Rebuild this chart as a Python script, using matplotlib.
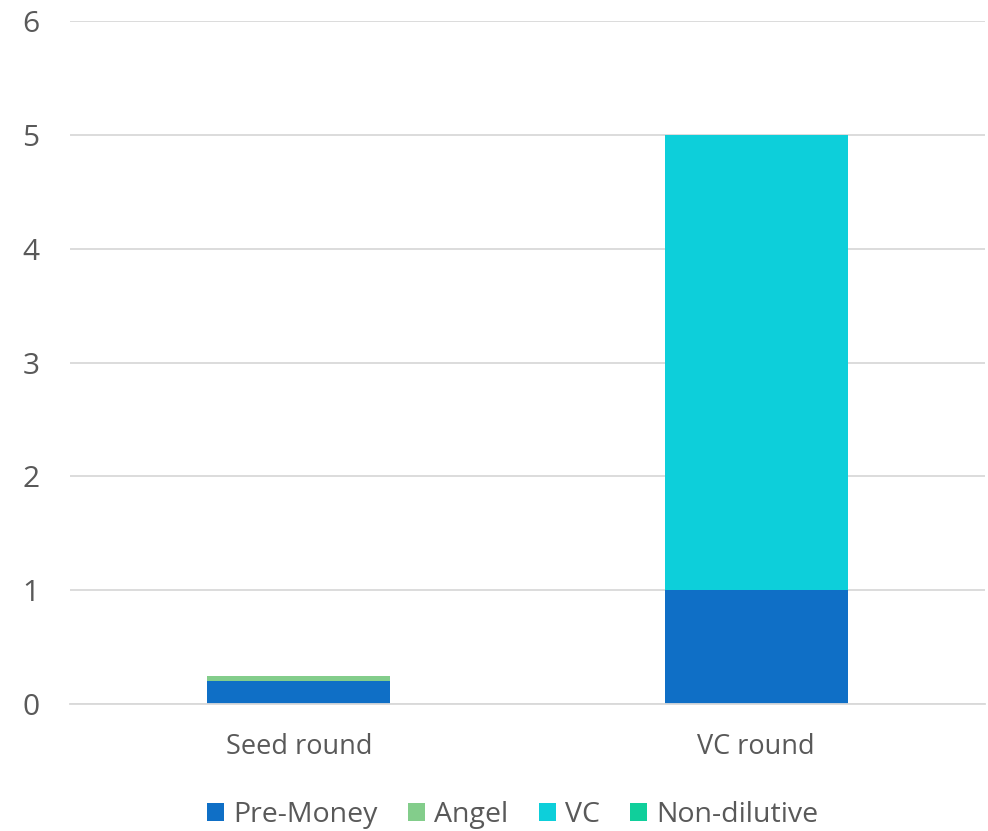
import matplotlib
matplotlib.use("Agg")
import matplotlib.pyplot as plt
import numpy as np

categories = ["Seed round", "VC round"]
pre_money = [0.2, 1.0]
angel = [0.05, 0.0]
vc = [0.0, 4.0]
non_dilutive = [0.0, 0.0]
y_ticks = [0, 1, 2, 3, 4, 5, 6]

series = [
    ("Pre-Money", pre_money, "#0F6FC6"),
    ("Angel", angel, "#83CD8B"),
    ("VC", vc, "#0DCFDA"),
    ("Non-dilutive", non_dilutive, "#10CF9B"),
]

plt.rcParams["font.family"] = ["Open Sans", "DejaVu Sans"]
text_color = "#595959"

W, H = 988, 831
fig = plt.figure(figsize=(W / 100, H / 100), dpi=100)
ax = fig.add_axes([70 / W, 1 - 704 / H, (985 - 70) / W, (704 - 21) / H])

x = np.arange(len(categories))
bottom = np.zeros(len(categories))
for name, vals, color in series:
    vals = np.array(vals)
    ax.bar(x, vals, width=0.4, bottom=bottom, color=color, label=name, zorder=2)
    bottom += vals

ax.set_xlim(-0.5, len(categories) - 0.5)
ax.set_ylim(0, 6)
ax.set_yticks(y_ticks)
ax.set_xticks(x)
ax.set_xticklabels(categories)
ax.yaxis.grid(True, color="#D9D9D9", linewidth=1.3, zorder=0)
ax.set_axisbelow(True)
for s in ["top", "right", "left"]:
    ax.spines[s].set_visible(False)
ax.spines["bottom"].set_color("#D9D9D9")
ax.spines["bottom"].set_linewidth(1.3)
ax.tick_params(axis="both", length=0, colors=text_color)
ax.tick_params(axis="y", pad=22, labelsize=21.5)
ax.tick_params(axis="x", pad=21, labelsize=19.5)

leg = ax.legend(loc="upper center", bbox_to_anchor=(0.484, -0.126), ncol=4, frameon=False,
                fontsize=20.5, handlelength=0.6, handleheight=0.6, handletextpad=0.32,
                columnspacing=1.06, borderaxespad=0)
for t in leg.get_texts():
    t.set_color(text_color)

fig.savefig("out.png", dpi=100)
